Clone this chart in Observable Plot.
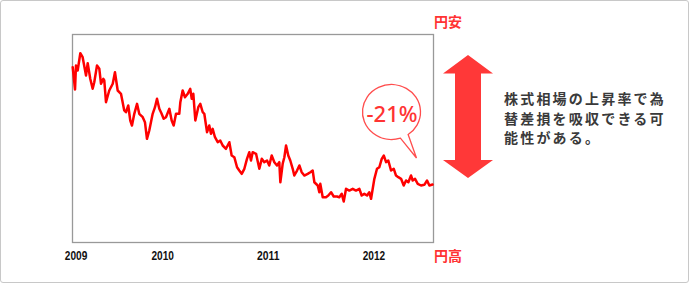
<!DOCTYPE html>
<html>
<head>
<meta charset="utf-8">
<script src="https://cdn.jsdelivr.net/npm/d3@7"></script>
<script src="https://cdn.jsdelivr.net/npm/@observablehq/plot@0.6"></script>
<style>
  body { margin: 0; background: #fff; }
  #wrap { position: relative; width: 690px; height: 284px; overflow: hidden; background: #fff; }
  #border { position: absolute; left: 0; top: 0; width: 689px; height: 283px; box-sizing: border-box; border: 1px solid #c8c8c8; border-radius: 3px; }
  #chart { position: absolute; left: 0; top: 0; }
  #deco { position: absolute; left: 0; top: 0; }
  .yen { position: absolute; left: 434px; font-family: "Noto Sans CJK JP", sans-serif; font-weight: bold; font-size: 14px; line-height: 14px; color: #ff3333; white-space: nowrap; }
  #note { position: absolute; left: 504px; top: 89px; font-family: "Noto Sans CJK JP", sans-serif; font-weight: bold; font-size: 14px; line-height: 19.5px; letter-spacing: 2.2px; color: #3a3a3a; white-space: nowrap; }
</style>
</head>
<body>
<div id="wrap">
  <div id="border"></div>
  <div id="chart"></div>
  <svg id="deco" width="690" height="284"></svg>
  <div class="yen" id="yenTop"></div>
  <div class="yen" id="yenBottom"></div>
  <div id="note"></div>
</div>
<script>
// Series: decimal year and index value (start = 100)
const years = [
  2009.148, 2009.170, 2009.179, 2009.195, 2009.220, 2009.242, 2009.274, 2009.290, 2009.314, 2009.337,
  2009.352, 2009.378, 2009.400, 2009.416, 2009.438, 2009.447, 2009.463, 2009.494, 2009.527, 2009.548,
  2009.574, 2009.605, 2009.636, 2009.652, 2009.674, 2009.693, 2009.709, 2009.731, 2009.757, 2009.778,
  2009.811, 2009.832, 2009.851, 2009.873, 2009.905, 2009.927, 2009.946, 2009.968, 2009.989, 2010.009,
  2010.031, 2010.063, 2010.085, 2010.104, 2010.126, 2010.157, 2010.167, 2010.189, 2010.211, 2010.237,
  2010.261, 2010.275, 2010.290, 2010.309, 2010.337, 2010.356, 2010.379, 2010.394, 2010.420, 2010.441,
  2010.457, 2010.473, 2010.495, 2010.521, 2010.545, 2010.568, 2010.599, 2010.631, 2010.653, 2010.678,
  2010.704, 2010.725, 2010.748, 2010.773, 2010.798, 2010.820, 2010.836, 2010.852, 2010.884, 2010.915,
  2010.938, 2010.962, 2010.988, 2011.009, 2011.032, 2011.057, 2011.082, 2011.104, 2011.114, 2011.136,
  2011.152, 2011.168, 2011.189, 2011.208, 2011.231, 2011.246, 2011.272, 2011.294, 2011.316, 2011.341,
  2011.373, 2011.398, 2011.420, 2011.436, 2011.468, 2011.483, 2011.492, 2011.515, 2011.546, 2011.568,
  2011.594, 2011.619, 2011.651, 2011.672, 2011.695, 2011.714, 2011.736, 2011.767, 2011.799, 2011.830,
  2011.862, 2011.884, 2011.909, 2011.935, 2011.956, 2011.973, 2012.004, 2012.029, 2012.051, 2012.074,
  2012.093, 2012.115, 2012.136, 2012.162, 2012.188, 2012.209, 2012.231, 2012.257, 2012.282, 2012.304,
  2012.326, 2012.351, 2012.367, 2012.389, 2012.415, 2012.446, 2012.477, 2012.503, 2012.525, 2012.555
];
const values = [
  100.00, 96.02, 100.30, 99.41, 102.50, 101.79, 98.52, 100.71, 97.93, 96.14,
  97.32, 100.30, 99.71, 97.04, 97.93, 97.63, 93.75, 95.84, 97.04, 99.11,
  95.84, 95.25, 92.27, 91.96, 93.16, 90.48, 89.59, 91.68, 93.46, 91.68,
  91.07, 90.18, 87.21, 88.70, 91.68, 92.86, 94.36, 92.57, 91.73, 90.79,
  91.07, 92.57, 90.48, 89.59, 91.68, 91.68, 93.75, 95.84, 94.64, 95.25,
  96.14, 94.36, 95.25, 90.48, 92.86, 93.46, 91.96, 91.68, 88.39, 89.59,
  88.11, 89.00, 87.50, 86.61, 86.91, 86.02, 85.43, 86.61, 84.23, 83.93,
  82.14, 81.55, 80.96, 81.86, 83.64, 84.82, 83.34, 84.82, 84.54, 81.86,
  83.64, 83.04, 83.34, 82.45, 84.23, 83.04, 82.45, 83.04, 79.46, 82.75,
  83.93, 86.02, 84.23, 83.34, 81.86, 80.66, 81.55, 82.45, 81.25, 80.66,
  80.96, 81.25, 81.55, 79.46, 78.88, 77.68, 79.18, 76.79, 76.79, 77.09,
  77.68, 76.91, 76.91, 76.79, 77.39, 76.02, 78.29, 77.98, 78.29, 77.98,
  78.29, 77.09, 77.39, 77.09, 77.68, 76.50, 80.07, 81.86, 82.14, 83.64,
  84.23, 83.04, 83.34, 81.55, 81.86, 80.66, 80.36, 80.07, 78.88, 79.77,
  79.46, 80.66, 79.77, 80.07, 79.18, 78.88, 79.00, 79.77, 78.88, 79.05
];
const tickYears = [2009.18, 2010, 2011, 2012];
const tickLabels = ["2009", "2010", "2011", "2012"];
const bubbleYear = 2012.171;
const bubbleValue = 91.91;
const bubbleLabel = "-21%";
const topLabel = "円安";
const bottomLabel = "円高";
const noteLines = ["株式相場の上昇率で為", "替差損を吸収できる可", "能性がある。"];

const data = years.map((t, i) => ({t, v: values[i]}));

// Speech bubble drawn with the plot's scales
function bubbleMark(index, scales) {
  const cx = scales.x(bubbleYear), cy = scales.y(bubbleValue);
  const rx = 29, ry = 27.5;
  const a1 = 72 * Math.PI / 180, a2 = 55 * Math.PI / 180;
  const p1 = [cx + rx * Math.cos(a1), cy + ry * Math.sin(a1)];
  const p2 = [cx + rx * Math.cos(a2), cy + ry * Math.sin(a2)];
  const tip = [cx + 25, cy + 46];
  const path = document.createElementNS("http://www.w3.org/2000/svg", "path");
  path.setAttribute("d", `M${p1[0]},${p1[1]} A${rx},${ry} 0 1 1 ${p2[0]},${p2[1]} L${tip[0]},${tip[1]} Z`);
  path.setAttribute("fill", "#fff");
  path.setAttribute("stroke", "#ff4d4d");
  path.setAttribute("stroke-width", "1.3");
  path.setAttribute("stroke-linejoin", "miter");
  return path;
}

const chart = Plot.plot({
  width: 690,
  height: 284,
  marginLeft: 72,
  marginRight: 257,
  marginTop: 34,
  marginBottom: 42,
  style: {background: "transparent", fontFamily: '"Liberation Sans", Arial, sans-serif', fontSize: "13px", fontWeight: "bold", color: "#111"},
  x: {domain: [2009.146, 2012.564], ticks: tickYears, tickFormat: d => tickLabels[tickYears.indexOf(d)], tickSize: 0, tickPadding: 8, label: null},
  y: {domain: [68.7, 105.84], axis: null},
  marks: [
    Plot.frame({stroke: "#999", strokeWidth: 1.3}),
    Plot.line(data, {x: "t", y: "v", stroke: "#ff0000", strokeWidth: 2.5, strokeLinejoin: "round"}),
    bubbleMark,
    Plot.text([{t: bubbleYear, v: bubbleValue, label: bubbleLabel}], {x: "t", y: "v", text: "label", fill: "#f33", fontSize: 22, fontWeight: 500, fontFamily: '"Noto Sans", sans-serif', dy: 2})
  ]
});
document.getElementById("chart").appendChild(chart);

// Condense the year labels like the reference's narrow bold face
chart.querySelectorAll('g[aria-label="x-axis tick label"] text').forEach(t => {
  t.setAttribute("textLength", "22.5");
  t.setAttribute("lengthAdjust", "spacingAndGlyphs");
});

// Double-headed arrow decoration
const deco = d3.select("#deco");
deco.append("polygon")
  .attr("points", "468,55 493,73.5 481,73.5 481,160 493,160 468,178 443,160 455,160 455,73.5 443,73.5")
  .attr("fill", "#ff3838");

const yt = document.getElementById("yenTop");
yt.textContent = topLabel; yt.style.top = "14px";
const yb = document.getElementById("yenBottom");
yb.textContent = bottomLabel; yb.style.top = "248px";
document.getElementById("note").innerHTML = noteLines.join("<br>");
</script>
</body>
</html>
